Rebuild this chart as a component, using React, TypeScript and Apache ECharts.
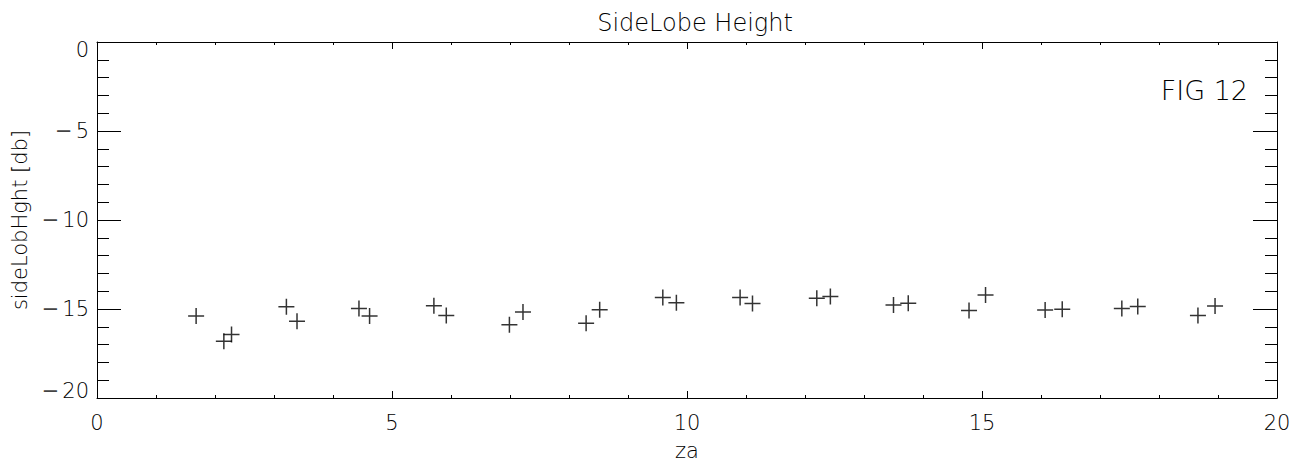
import React, { useEffect, useRef } from "react";
import * as echarts from "echarts";

const zaValues = [
  1.68, 2.15, 2.28, 3.21, 3.39, 4.44, 4.62, 5.71, 5.92, 6.99,
  7.22, 8.29, 8.52, 9.59, 9.82, 10.9, 11.11, 12.2, 12.43, 13.5,
  13.75, 14.78, 15.06, 16.07, 16.36, 17.37, 17.64, 18.66, 18.95,
];
const sideLobeValues = [
  -15.39, -16.81, -16.43, -14.87, -15.69, -14.97, -15.39, -14.82, -15.37, -15.89,
  -15.17, -15.8, -15.04, -14.36, -14.65, -14.36, -14.69, -14.39, -14.3, -14.78,
  -14.67, -15.09, -14.22, -15.06, -15.02, -14.97, -14.86, -15.37, -14.83,
];
const xTickLabels = ["0", "5", "10", "15", "20"];
const chartTitle = "SideLobe Height";
const xName = "za";
const yName = "sideLobHght [db]";
const figLabel = "FIG 12";

const FONT = "'DejaVu Sans', sans-serif";
const INK = "#000";

function fmtY(v: number): string {
  const style = v === 0 ? "top" : v === -20 ? "bot" : "n";
  const dash = v === -20 ? "mb" : "m";
  if (v < 0) return "{" + dash + "|\u2212}{" + style + "|" + Math.abs(v) + "}";
  return "{" + style + "|" + v + "}";
}

export default function App() {
  const ref = useRef<HTMLDivElement>(null);
  useEffect(() => {
    if (!ref.current) return;
    const chart = echarts.init(ref.current, undefined, { renderer: "svg" });
    const data = zaValues.map((x, i) => [x, sideLobeValues[i]]);
    const base = { fontSize: 21, fontFamily: FONT, fontWeight: 200, color: INK };
    const dashBase = { fontSize: 21, fontFamily: FONT, fontWeight: 400, color: "#444" };
    const labelRich = {
      n: { ...base },
      m: { ...dashBase, padding: [0, 3, 0, 0] },
      mb: { ...dashBase, padding: [0, 3, 14, 0] },
      top: { ...base, padding: [16, 0, 0, 0] },
      bot: { ...base, padding: [0, 0, 14, 0] },
    };
    const axisLineStyle = { color: INK, width: 1 };
    chart.setOption({
      animation: false,
      backgroundColor: "#fff",
      title: {
        text: chartTitle,
        left: 690,
        textAlign: "center",
        top: 6,
        textStyle: { fontSize: 24, fontFamily: FONT, fontWeight: 200, color: INK },
      },
      grid: { left: 97, right: 27, top: 42, bottom: 64, containLabel: false },
      xAxis: [
        {
          type: "value",
          min: 0,
          max: 20,
          interval: 5,
          position: "bottom",
          name: xName,
          nameLocation: "middle",
          nameGap: 42,
          nameTextStyle: { ...base },
          axisLine: { show: true, onZero: false, lineStyle: axisLineStyle },
          axisTick: { show: true, inside: true, length: 7, lineStyle: axisLineStyle },
          minorTick: { show: true, splitNumber: 5, length: 3, lineStyle: axisLineStyle },
          splitLine: { show: false },
          axisLabel: {
            margin: 14,
            ...base,
            showMinLabel: true,
            showMaxLabel: true,
            formatter: (v: number) => xTickLabels[Math.round(v / 5)] ?? String(v),
          },
        },
        {
          type: "value",
          min: 0,
          max: 20,
          interval: 5,
          position: "top",
          axisLine: { show: true, onZero: false, lineStyle: axisLineStyle },
          axisTick: { show: true, inside: true, length: 7, lineStyle: axisLineStyle },
          minorTick: { show: true, splitNumber: 5, length: 3, lineStyle: axisLineStyle },
          splitLine: { show: false },
          axisLabel: { show: false },
        },
      ],
      yAxis: [
        {
          type: "value",
          min: -20,
          max: 0,
          interval: 5,
          position: "left",
          name: yName,
          nameLocation: "middle",
          nameGap: 63,
          nameRotate: 90,
          nameTextStyle: { ...base },
          axisLine: { show: true, onZero: false, lineStyle: axisLineStyle },
          axisTick: { show: true, inside: true, length: 24, lineStyle: axisLineStyle },
          minorTick: { show: true, splitNumber: 5, length: 12, lineStyle: axisLineStyle },
          splitLine: { show: false },
          axisLabel: {
            margin: 8,
            showMinLabel: true,
            showMaxLabel: true,
            formatter: fmtY,
            rich: labelRich,
          },
        },
        {
          type: "value",
          min: -20,
          max: 0,
          interval: 5,
          position: "right",
          axisLine: { show: true, onZero: false, lineStyle: axisLineStyle },
          axisTick: { show: true, inside: true, length: 24, lineStyle: axisLineStyle },
          minorTick: { show: true, splitNumber: 5, length: 12, lineStyle: axisLineStyle },
          splitLine: { show: false },
          axisLabel: { show: false },
        },
      ],
      graphic: [
        {
          type: "text",
          x: 1248,
          y: 90,
          style: {
            text: figLabel,
            align: "right",
            verticalAlign: "middle",
            fontSize: 27,
            fontFamily: FONT,
            fontWeight: 200,
            fill: INK,
          },
        },
      ],
      series: [
        {
          type: "scatter",
          xAxisIndex: 0,
          yAxisIndex: 0,
          data,
          symbol: "path://M0,8 L16,8 M8,0 L8,16",
          symbolSize: 16,
          itemStyle: { color: "rgba(0,0,0,0)", borderColor: "#000", borderWidth: 1.5 },
          emphasis: { disabled: true },
        },
      ],
    });
    return () => chart.dispose();
  }, []);
  return (
    <div
      ref={ref}
      style={{ position: "fixed", left: 0, top: 0, width: 1304, height: 466, background: "#fff" }}
    />
  );
}
